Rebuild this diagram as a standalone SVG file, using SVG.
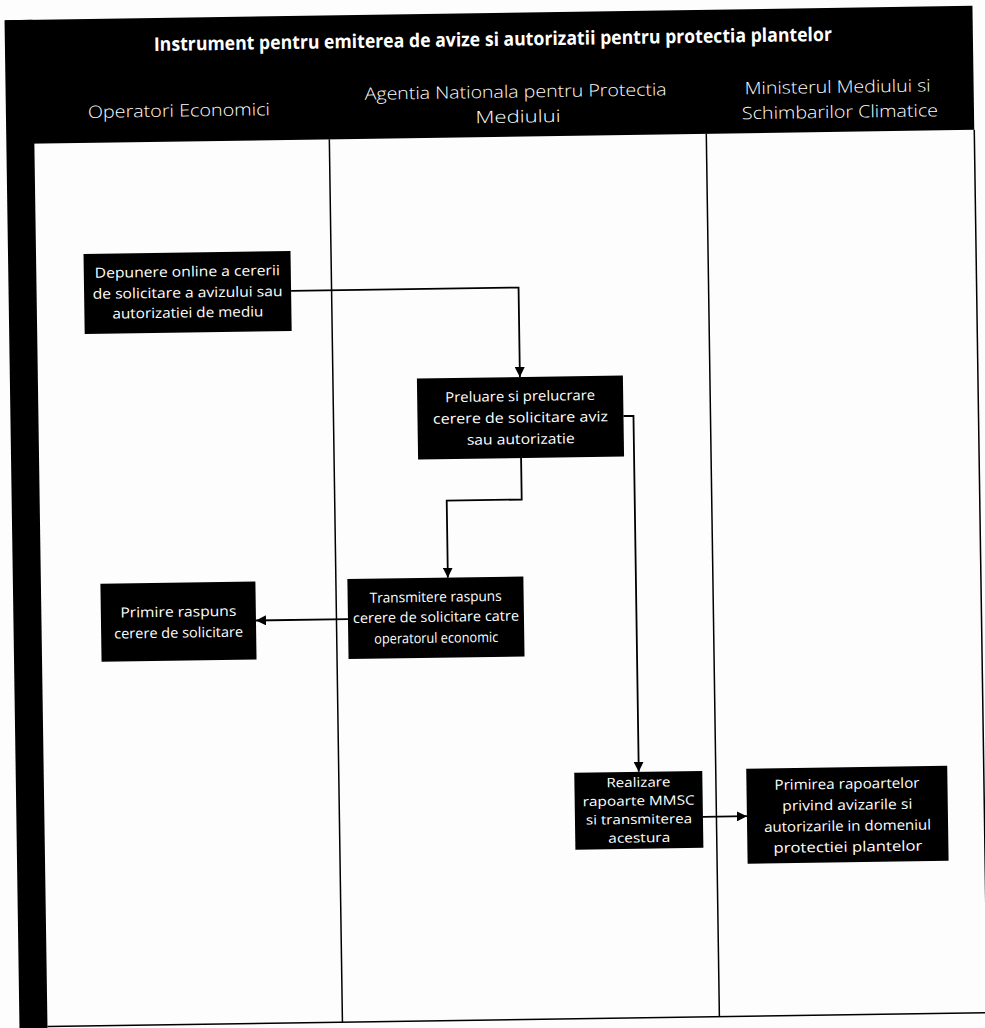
<svg xmlns="http://www.w3.org/2000/svg" width="985" height="1028" viewBox="0 0 985 1028">
<style>
.hdr{fill:#000}
.t{font-family:"Open Sans","Liberation Sans",sans-serif;fill:#fff;text-anchor:middle}
.title{font-size:19px;font-weight:700}
.lane{font-size:17px;font-weight:300}
.nt{font-size:14px}
.ns{font-size:13px}
.box{fill:#000}
.ln{stroke:#000;stroke-width:1.5;fill:none}
.cn{stroke:#000;stroke-width:1.8;fill:none}
</style>
<defs>
<marker id="ah" viewBox="0 0 10 10" refX="10" refY="5" markerWidth="10" markerHeight="10" markerUnits="userSpaceOnUse" orient="auto">
<path d="M0,0 L10,5 L0,10 Z" fill="#000"/>
</marker>
</defs>
<rect width="985" height="1028" fill="#fdfdfd"/>
<g transform="rotate(-0.85 490 520)">
<g id="frame">
<rect class="hdr" x="13" y="13" width="967" height="124"/>
<rect class="hdr" x="12" y="13" width="28" height="1040"/>
<line class="ln" x1="335" y1="137" x2="335" y2="1020"/>
<line class="ln" x1="712" y1="137" x2="712" y2="1020"/>
<line class="ln" x1="980" y1="137" x2="980" y2="1020"/>
<line class="ln" x1="40" y1="1020" x2="1000" y2="1020"/>
<text class="t title" x="500" y="46" textLength="678" lengthAdjust="spacingAndGlyphs">Instrument pentru emiterea de avize si autorizatii pentru protectia plantelor</text>
<text class="t lane" x="185" y="112" textLength="182" lengthAdjust="spacingAndGlyphs">Operatori Economici</text>
<text class="t lane" x="522" y="98" textLength="302" lengthAdjust="spacingAndGlyphs">Agentia Nationala pentru Protectia</text>
<text class="t lane" x="524" y="123" textLength="85" lengthAdjust="spacingAndGlyphs">Mediului</text>
<text class="t lane" x="844" y="98" textLength="186" lengthAdjust="spacingAndGlyphs">Ministerul Mediului si</text>
<text class="t lane" x="846" y="123" textLength="196" lengthAdjust="spacingAndGlyphs">Schimbarilor Climatice</text>
</g>
<g id="connectors">
<path class="cn" d="M294.5,288 H522 V377.5" marker-end="url(#ah)"/>
<path class="cn" d="M522,458.5 V500 H447 V577" marker-end="url(#ah)"/>
<path class="cn" d="M346.5,617 H254.5" marker-end="url(#ah)"/>
<path class="cn" d="M625,418 H635 V774" marker-end="url(#ah)"/>
<path class="cn" d="M698.5,820 H742.5" marker-end="url(#ah)"/>
</g>
<g id="n1">
<rect class="box" x="87.5" y="248" width="207" height="80"/>
<text class="t nt" x="191" y="272" textLength="185" lengthAdjust="spacingAndGlyphs">Depunere online a cererii</text>
<text class="t nt" x="191" y="293" textLength="190" lengthAdjust="spacingAndGlyphs">de solicitare a avizului sau</text>
<text class="t nt" x="191" y="313" textLength="151" lengthAdjust="spacingAndGlyphs">autorizatiei de mediu</text>
</g>
<g id="n2">
<rect class="box" x="419" y="377.5" width="206" height="81"/>
<text class="t nt" x="522" y="401.5" textLength="150" lengthAdjust="spacingAndGlyphs">Preluare si prelucrare</text>
<text class="t nt" x="522" y="423" textLength="175" lengthAdjust="spacingAndGlyphs">cerere de solicitare aviz</text>
<text class="t nt" x="522" y="444.5" textLength="108" lengthAdjust="spacingAndGlyphs">sau autorizatie</text>
</g>
<g id="n3">
<rect class="box" x="346.5" y="577" width="176" height="80"/>
<text class="t nt" x="434.5" y="601" textLength="132" lengthAdjust="spacingAndGlyphs">Transmitere raspuns</text>
<text class="t nt" x="434.5" y="621" textLength="166" lengthAdjust="spacingAndGlyphs">cerere de solicitare catre</text>
<text class="t nt" x="434.5" y="642" textLength="124" lengthAdjust="spacingAndGlyphs">operatorul economic</text>
</g>
<g id="n4">
<rect class="box" x="99.5" y="578" width="155" height="78"/>
<text class="t nt" x="177" y="612" textLength="116" lengthAdjust="spacingAndGlyphs">Primire raspuns</text>
<text class="t nt" x="177" y="633" textLength="129" lengthAdjust="spacingAndGlyphs">cerere de solicitare</text>
</g>
<g id="n5">
<rect class="box" x="570.5" y="774" width="128" height="77"/>
<text class="t ns" x="634.5" y="789" textLength="64" lengthAdjust="spacingAndGlyphs">Realizare</text>
<text class="t ns" x="634.5" y="807.5" textLength="112" lengthAdjust="spacingAndGlyphs">rapoarte MMSC</text>
<text class="t ns" x="634.5" y="826" textLength="106" lengthAdjust="spacingAndGlyphs">si transmiterea</text>
<text class="t ns" x="634.5" y="844.5" textLength="62" lengthAdjust="spacingAndGlyphs">acestura</text>
</g>
<g id="n6">
<rect class="box" x="742.5" y="772.5" width="201" height="95"/>
<text class="t nt" x="843" y="794" textLength="145" lengthAdjust="spacingAndGlyphs">Primirea rapoartelor</text>
<text class="t nt" x="843" y="815" textLength="130" lengthAdjust="spacingAndGlyphs">privind avizarile si</text>
<text class="t nt" x="843" y="836" textLength="167" lengthAdjust="spacingAndGlyphs">autorizarile in domeniul</text>
<text class="t nt" x="843" y="857" textLength="149" lengthAdjust="spacingAndGlyphs">protectiei plantelor</text>
</g>
</g>
</svg>
